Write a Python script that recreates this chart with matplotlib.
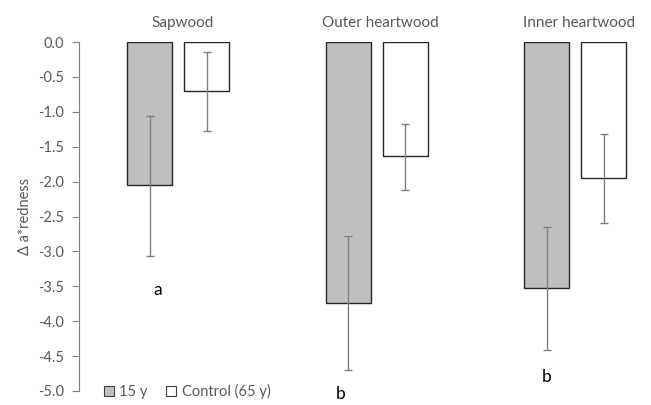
import numpy as np
import matplotlib.pyplot as plt

plt.rcParams['font.family'] = ['Lato', 'DejaVu Sans']

groups = ['Sapwood', 'Outer heartwood', 'Inner heartwood']
series = ['15 y', 'Control (65 y)']
young = [-2.05, -3.74, -3.52]
young_lo = [-3.06, -4.70, -4.41]
young_hi = [-1.06, -2.78, -2.65]
control = [-0.70, -1.63, -1.95]
control_lo = [-1.28, -2.12, -2.59]
control_hi = [-0.14, -1.18, -1.32]
letters = ['a', 'b', 'b']

grey = '#595959'
fig = plt.figure(figsize=(6.51, 4.05), dpi=100)
ax = fig.add_axes([79/651, 1-391/405, 1-79/651, 349/405])

x = np.arange(len(groups)) + 0.5
w = 0.227
off = 0.1436

young = np.array(young); control = np.array(control)
yerr_y = [young - np.array(young_lo), np.array(young_hi) - young]
yerr_c = [control - np.array(control_lo), np.array(control_hi) - control]

ax.bar(x - off, young, w, color='#bfbfbf', edgecolor='#262626', lw=1.0, label=series[0], zorder=2)
ax.bar(x + off, control, w, color='white', edgecolor='#262626', lw=1.0, label=series[1], zorder=2)
ax.errorbar(x - off, young, yerr=yerr_y, fmt='none', ecolor='#7f7f7f', elinewidth=1, capsize=2.8, zorder=3)
ax.errorbar(x + off, control, yerr=yerr_c, fmt='none', ecolor='#7f7f7f', elinewidth=1, capsize=2.8, zorder=3)

for xi, g in zip(x, groups):
    ax.text(xi + 0.02, 0.27, g, ha='center', va='center', fontsize=11, color=grey)

# significance letters (hand placed as in the original figure)
letter_pos = [(0.04, -3.55), (-0.04, -5.05), (0.0, -4.8)]
for xi, l, (dx, ly) in zip(x, letters, letter_pos):
    ax.text(xi - off + dx, ly, l, ha='center', va='center', fontsize=12.5, color='black')

ax.set_xlim(0, (651-79)/198.5)
ax.set_ylim(-5, 0)
ax.set_yticks(np.arange(-5, 0.01, 0.5))
ax.set_yticklabels(['%.1f' % v for v in np.arange(-5, 0.01, 0.5)])
ax.set_xticks([])
for s in ['top', 'right', 'bottom']:
    ax.spines[s].set_visible(False)
ax.spines['left'].set_color('#7f7f7f')
ax.tick_params(axis='y', colors='#7f7f7f', labelcolor=grey, labelsize=10.5, length=5, pad=6)
ax.set_ylabel('Δ a*redness', color=grey, fontsize=10.5, labelpad=4)

leg = ax.legend(loc='lower left', bbox_to_anchor=(0.02, -0.06), ncol=2, frameon=False,
                fontsize=10.5, handlelength=0.7, handleheight=0.7, handletextpad=0.35, columnspacing=1.3)
for t in leg.get_texts():
    t.set_color(grey)
for h in leg.legend_handles:
    h.set_edgecolor('#404040')
    h.set_linewidth(0.8)

fig.savefig('out.png', dpi=100)
